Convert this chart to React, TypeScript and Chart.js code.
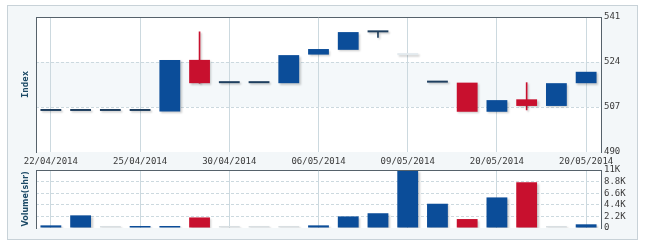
import React, { useEffect, useRef } from 'react';
import { Chart, registerables } from 'chart.js';
Chart.register(...registerables);

const dates = ['22/04/2014', '23/04/2014', '24/04/2014', '25/04/2014', '28/04/2014', '29/04/2014', '30/04/2014', '02/05/2014', '05/05/2014', '06/05/2014', '07/05/2014', '08/05/2014', '09/05/2014', '12/05/2014', '13/05/2014', '20/05/2014', '15/05/2014', '16/05/2014', '20/05/2014'];
const openV = [505.5, 505.5, 505.5, 505.5, 505.3, 524.8, 516.0, 516.0, 516.0, 526.8, 528.6, 535.2, 526.6, 516.2, 516.2, 505.2, 509.9, 507.4, 516.0];
const closeV = [505.5, 505.5, 505.5, 505.5, 524.8, 516.0, 516.0, 516.0, 526.6, 528.9, 535.3, 535.2, 526.6, 516.2, 505.2, 509.6, 507.4, 516.0, 520.3];
const highV = [505.5, 505.5, 505.5, 505.5, 524.8, 535.4, 516.0, 516.0, 526.6, 528.9, 535.3, 535.2, 526.6, 516.2, 516.2, 509.6, 516.2, 516.0, 520.3];
const lowV = [505.5, 505.5, 505.5, 505.5, 505.3, 516.0, 516.0, 516.0, 516.0, 526.8, 528.6, 533.3, 526.6, 516.2, 505.2, 505.2, 505.9, 507.4, 516.0];
const volume = [500, 2400, 0, 300, 300, 2000, 0, 0, 0, 500, 2200, 2800, 11000, 4600, 1700, 5800, 8700, 0, 700];
const inactiveDays = [12];
const indexTicks = [490, 507, 524, 541];
const volumeTicks = [0, 2200, 4400, 6600, 8800, 11000];

const BLUE = '#0b4d99';
const RED = '#c8102e';
const FLAT = '#1f3f5f';
const FAINT = '#e3eaee';
const GRAYVOL = '#d9dfe2';
const AXIS = '#56626b';
const GRID = '#ccd9df';
const LABEL = '#3a3a3a';
const TITLE = '#1c4a66';

const dir = (i: number) => (closeV[i] > openV[i] ? 1 : closeV[i] < openV[i] ? -1 : 0);
const bodyColor = (i: number) =>
  inactiveDays.includes(i) ? FAINT : dir(i) > 0 ? BLUE : dir(i) < 0 ? RED : FLAT;
const volColor = (i: number) => (volume[i] === 0 ? GRAYVOL : dir(i) < 0 ? RED : BLUE);

const showTick = (i: number) => i % 3 === 0;
const tickFont = { family: 'DejaVu Sans Mono', size: 9, lineHeight: 1 };

const makeBgPlugin = (band: [number, number] | null) => ({
  id: 'bg',
  beforeDraw(chart: any) {
    const { ctx, chartArea: a, scales } = chart;
    ctx.save();
    ctx.fillStyle = '#ffffff';
    ctx.fillRect(a.left, a.top, a.right - a.left, a.bottom - a.top);
    if (band) {
      const y1 = scales.y.getPixelForValue(band[1]);
      const y0 = scales.y.getPixelForValue(band[0]);
      ctx.fillStyle = '#f4f8fa';
      ctx.fillRect(a.left, y1, a.right - a.left, y0 - y1);
    }
    ctx.restore();
  },
  beforeDatasetsDraw(chart: any) {
    const ctx = chart.ctx;
    ctx.save();
    ctx.shadowColor = 'rgba(0,0,0,0.2)';
    ctx.shadowOffsetX = 1.5;
    ctx.shadowOffsetY = 1.5;
    ctx.shadowBlur = 2;
  },
  afterDatasetsDraw(chart: any) {
    chart.ctx.restore();
  },
  afterDraw(chart: any) {
    const { ctx, chartArea: a } = chart;
    ctx.save();
    ctx.strokeStyle = AXIS;
    ctx.lineWidth = 1;
    ctx.beginPath();
    ctx.moveTo(a.left, Math.round(a.top) + 0.5);
    ctx.lineTo(a.right, Math.round(a.top) + 0.5);
    ctx.stroke();
    ctx.restore();
  },
});

export default function App() {
  const topRef = useRef<HTMLCanvasElement>(null);
  const botRef = useRef<HTMLCanvasElement>(null);

  useEffect(() => {
    const wicks = dates.map((_, i) =>
      highV[i] > Math.max(openV[i], closeV[i]) || lowV[i] < Math.min(openV[i], closeV[i])
        ? [lowV[i], highV[i]]
        : null
    );
    const top = new Chart(topRef.current!, {
      type: 'bar',
      data: {
        labels: dates,
        datasets: [
          {
            data: wicks as any,
            backgroundColor: dates.map((_, i) => (dir(i) < 0 ? RED : dir(i) > 0 ? BLUE : FLAT)),
            barThickness: 1,
            grouped: false,
            yAxisID: 'y',
            order: 2,
          } as any,
          {
            data: dates.map((_, i) => [openV[i], closeV[i]]) as any,
            backgroundColor: dates.map((_, i) => bodyColor(i)),
            categoryPercentage: 1,
            barPercentage: 0.7,
            minBarLength: 2,
            grouped: false,
            yAxisID: 'y',
            order: 1,
          } as any,
        ],
      },
      options: {
        animation: false,
        responsive: false,
        maintainAspectRatio: false,
        layout: { padding: { top: 17, left: 0, right: 0, bottom: 0 } },
        plugins: { legend: { display: false }, tooltip: { enabled: false } },
        scales: {
          x: {
            type: 'category',
            offset: true,
            grid: {
              offset: false,
              drawTicks: false,
              color: (c: any) => (showTick(c.index) ? GRID : 'rgba(0,0,0,0)'),
            },
            border: { display: false },
            ticks: {
              autoSkip: false,
              maxRotation: 0,
              padding: 5,
              color: LABEL,
              font: tickFont,
              callback: (_v: any, i: number) => (showTick(i) ? dates[i] : ''),
            },
            afterFit: (s: any) => {
              s.height = 18;
            },
          },
          y: {
            position: 'right',
            min: indexTicks[0],
            max: indexTicks[indexTicks.length - 1],
            afterBuildTicks: (s: any) => {
              s.ticks = indexTicks.map((v) => ({ value: v }));
            },
            ticks: { padding: 3, color: LABEL, font: tickFont, autoSkip: false },
            grid: {
              drawTicks: false,
              color: (c: any) =>
                c.tick && c.tick.value !== indexTicks[0] && c.tick.value !== indexTicks[indexTicks.length - 1]
                  ? GRID
                  : 'rgba(0,0,0,0)',
            },
            border: { display: true, color: AXIS, dash: [3, 2] },
            afterFit: (s: any) => {
              s.width = 49;
            },
          },
          yl: {
            position: 'left',
            min: indexTicks[0],
            max: indexTicks[indexTicks.length - 1],
            ticks: { display: false },
            grid: { display: false, drawTicks: false },
            border: { display: true, color: AXIS },
            title: {
              display: true,
              text: 'Index',
              color: TITLE,
              font: { family: 'DejaVu Sans Mono', size: 9, weight: 'bold' },
              padding: { top: 20, bottom: 0 },
            },
            afterFit: (s: any) => {
              s.width = 36;
            },
          },
        },
      } as any,
      plugins: [makeBgPlugin([507, 524]) as any],
    });

    const bot = new Chart(botRef.current!, {
      type: 'bar',
      data: {
        labels: dates,
        datasets: [
          {
            data: volume,
            backgroundColor: dates.map((_, i) => volColor(i)),
            categoryPercentage: 1,
            barPercentage: 0.7,
            minBarLength: 2,
            yAxisID: 'y',
          } as any,
        ],
      },
      options: {
        animation: false,
        responsive: false,
        maintainAspectRatio: false,
        layout: { padding: { top: 10, left: 0, right: 0, bottom: 0 } },
        plugins: { legend: { display: false }, tooltip: { enabled: false } },
        scales: {
          x: {
            type: 'category',
            offset: true,
            grid: {
              offset: false,
              drawTicks: false,
              color: (c: any) => (showTick(c.index) ? GRID : 'rgba(0,0,0,0)'),
            },
            border: { display: false },
            ticks: { display: false, autoSkip: false },
            afterFit: (s: any) => {
              s.height = 12;
            },
          },
          y: {
            position: 'right',
            min: 0,
            max: volumeTicks[volumeTicks.length - 1],
            afterBuildTicks: (s: any) => {
              s.ticks = volumeTicks.map((v) => ({ value: v }));
            },
            ticks: {
              padding: 3,
              color: LABEL,
              font: tickFont,
              autoSkip: false,
              callback: (v: any) => (v === 0 ? '0' : `${+(v / 1000).toFixed(1)}K`),
            },
            grid: {
              drawTicks: false,
              color: (c: any) =>
                c.tick && c.tick.value !== 0 && c.tick.value !== volumeTicks[volumeTicks.length - 1]
                  ? GRID
                  : 'rgba(0,0,0,0)',
            },
            border: { display: true, color: AXIS, dash: [3, 2] },
            afterFit: (s: any) => {
              s.width = 49;
            },
          },
          yl: {
            position: 'left',
            min: 0,
            max: volumeTicks[volumeTicks.length - 1],
            ticks: { display: false },
            grid: { display: false, drawTicks: false },
            border: { display: true, color: AXIS },
            title: {
              display: true,
              text: 'Volume(shr)',
              color: TITLE,
              font: { family: 'DejaVu Sans', size: 8, weight: 'bold' },
              padding: { top: 21, bottom: 0 },
            },
            afterFit: (s: any) => {
              s.width = 36;
            },
          },
        },
      } as any,
      plugins: [makeBgPlugin(null) as any],
    });

    return () => {
      top.destroy();
      bot.destroy();
    };
  }, []);

  return (
    <div style={{ position: 'fixed', left: 0, top: 0, width: 650, height: 250, background: '#ffffff', overflow: 'hidden' }}>
      <div
        style={{
          position: 'absolute',
          left: 7,
          top: 5,
          width: 631,
          height: 235,
          boxSizing: 'border-box',
          border: '1px solid #c8d2d8',
          background: '#f3f7f9',
        }}
      />
      <canvas ref={topRef} width={650} height={170} style={{ position: 'absolute', left: 0, top: 0, width: 650, height: 170 }} />
      <canvas ref={botRef} width={650} height={80} style={{ position: 'absolute', left: 0, top: 160, width: 650, height: 80 }} />
    </div>
  );
}
